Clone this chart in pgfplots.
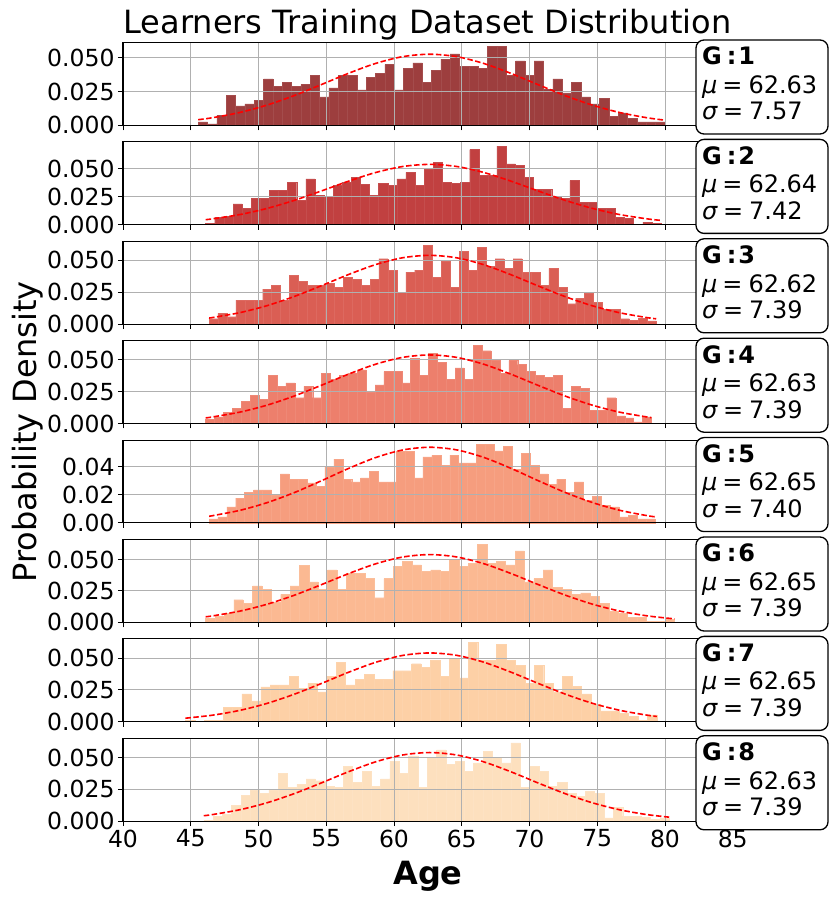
\documentclass[border=0pt]{standalone}
\usepackage{fontspec}
\setmainfont{DejaVu Sans}
\usepackage{pgfplots}
\pgfplotsset{compat=1.18}
\definecolor{gridc}{RGB}{176,176,176}
\definecolor{cA}{HTML}{9D3E3E}
\definecolor{cB}{HTML}{C14040}
\definecolor{cC}{HTML}{DA5E54}
\definecolor{cD}{HTML}{ED7F6C}
\definecolor{cE}{HTML}{F69D7E}
\definecolor{cF}{HTML}{FBB992}
\definecolor{cG}{HTML}{FDD0A6}
\definecolor{cH}{HTML}{FDE0BE}
\pgfplotsset{
  panel/.style={
    set layers,
    scale only axis, width=650.4pt, height=82.8pt,
    anchor=south west,
    xmin=40, xmax=88, ymin=0,
    xtick={40,45,50,55,60,65,70,75,80,85},
    xticklabels={},
    scaled y ticks=false,
    grid=major,
    major grid style={draw=gridc, line width=1pt},
    axis line style={line width=1.1pt},
    tick style={black, line width=1pt},
    tick align=outside, major tick length=5pt,
    xtick pos=left, ytick pos=left,
    tick label style={font=\fontsize{23.5}{28}\selectfont},
    /pgf/number format/assume math mode=true,
    ytick={0,0.025,0.05}, yticklabels={0.000,0.025,0.050},
  },
  mybars/.style={ybar interval, fill=#1, draw=#1!93!white, line width=0.4pt, on layer=axis background},
  curve/.style={red, line width=1.6pt, dash pattern=on 5.5pt off 2.5pt, smooth},
}
\begin{document}
\begin{tikzpicture}[x=1pt,y=1pt]

% ---- Panel 1
\begin{axis}[panel, at={(123pt,777.7pt)}, ymax=0.0614]
\addplot[mybars=cA] coordinates {
(45.55,0.0025) (46.24,0.0010) (46.93,0.0074) (47.62,0.0223) (48.31,0.0144) (49.00,0.0158) (49.68,0.0186) (50.37,0.0344) (51.06,0.0290) (51.75,0.0320)
(52.44,0.0290) (53.13,0.0302) (53.82,0.0369) (54.51,0.0210) (55.20,0.0277) (55.89,0.0369) (56.57,0.0369) (57.26,0.0262) (57.95,0.0356) (58.64,0.0386)
(59.33,0.0450) (60.02,0.0262) (60.71,0.0423) (61.40,0.0463) (62.09,0.0320) (62.78,0.0410) (63.46,0.0490) (64.15,0.0530) (64.84,0.0436) (65.53,0.0436)
(66.22,0.0423) (66.91,0.0584) (67.60,0.0584) (68.29,0.0371) (68.98,0.0478) (69.67,0.0371) (70.35,0.0478) (71.04,0.0265) (71.73,0.0344) (72.42,0.0240)
(73.11,0.0320) (73.80,0.0210) (74.49,0.0158) (75.18,0.0198) (75.87,0.0064) (76.56,0.0092) (77.24,0.0052) (77.93,0.0025) (78.62,0.0025) (79.31,0.0025) (80.00,0.0025)};
\addplot[curve] coordinates {
(45.55,0.00414) (46.63,0.00565) (48.63,0.00953) (50.63,0.01500) (52.63,0.02202) (54.63,0.03015) (56.63,0.03849) (58.63,0.04583) (60.63,0.05089) (62.63,0.05270)
(64.63,0.05089) (66.63,0.04583) (68.63,0.03849) (70.63,0.03015) (72.63,0.02202) (74.63,0.01500) (76.63,0.00953) (78.63,0.00565) (80.00,0.00379)};
\end{axis}

% ---- Panel 2
\begin{axis}[panel, at={(123pt,678.3pt)}, ymax=0.0738]
\addplot[mybars=cB] coordinates {
(46.10,0.0012) (46.77,0.0068) (47.44,0.0074) (48.12,0.0185) (48.79,0.0143) (49.46,0.0232) (50.13,0.0232) (50.80,0.0307) (51.48,0.0307) (52.15,0.0378)
(52.82,0.0217) (53.49,0.0408) (54.16,0.0259) (54.84,0.0250) (55.51,0.0348) (56.18,0.0378) (56.85,0.0423) (57.52,0.0357) (58.20,0.0262) (58.87,0.0366)
(59.54,0.0348) (60.21,0.0408) (60.88,0.0467) (61.56,0.0348) (62.23,0.0497) (62.90,0.0557) (63.57,0.0378) (64.24,0.0366) (64.92,0.0378) (65.59,0.0670)
(66.26,0.0437) (66.93,0.0437) (67.60,0.0700) (68.28,0.0542) (68.95,0.0527) (69.62,0.0423) (70.29,0.0318) (70.96,0.0318) (71.64,0.0244) (72.31,0.0232)
(72.98,0.0393) (73.65,0.0202) (74.32,0.0202) (75.00,0.0143) (75.67,0.0143) (76.34,0.0068) (77.01,0.0054) (77.68,0.0006) (78.36,0.0024) (79.03,0.0012) (79.70,0.0012)};
\addplot[curve] coordinates {
(46.10,0.00448) (46.64,0.00526) (48.64,0.00907) (50.64,0.01454) (52.64,0.02168) (54.64,0.03007) (56.64,0.03877) (58.64,0.04649) (60.64,0.05185) (62.64,0.05377)
(64.64,0.05185) (66.64,0.04649) (68.64,0.03877) (70.64,0.03007) (72.64,0.02168) (74.64,0.01454) (76.64,0.00907) (78.64,0.00526) (79.70,0.00382)};
\end{axis}

% ---- Panel 3
\begin{axis}[panel, at={(123pt,578.9pt)}, ymax=0.0650]
\addplot[mybars=cC] coordinates {
(46.35,0.0042) (47.01,0.0084) (47.67,0.0058) (48.33,0.0188) (48.99,0.0188) (49.65,0.0188) (50.31,0.0275) (50.97,0.0304) (51.63,0.0188) (52.29,0.0380)
(52.95,0.0338) (53.61,0.0304) (54.27,0.0304) (54.93,0.0322) (55.59,0.0290) (56.25,0.0366) (56.91,0.0351) (57.57,0.0304) (58.23,0.0351) (58.89,0.0513)
(59.55,0.0424) (60.21,0.0251) (60.87,0.0408) (61.53,0.0424) (62.19,0.0618) (62.85,0.0366) (63.51,0.0497) (64.17,0.0290) (64.83,0.0571) (65.49,0.0424)
(66.15,0.0600) (66.81,0.0453) (67.47,0.0513) (68.13,0.0437) (68.79,0.0513) (69.45,0.0408) (70.11,0.0408) (70.77,0.0304) (71.43,0.0437) (72.09,0.0290)
(72.75,0.0160) (73.41,0.0204) (74.07,0.0246) (74.73,0.0173) (75.39,0.0115) (76.05,0.0115) (76.71,0.0042) (77.37,0.0029) (78.03,0.0047) (78.69,0.0026) (79.35,0.0026)};
\addplot[curve] coordinates {
(46.35,0.00478) (46.62,0.00518) (48.62,0.00897) (50.62,0.01444) (52.62,0.02161) (54.62,0.03004) (56.62,0.03882) (58.62,0.04663) (60.62,0.05204) (62.62,0.05398)
(64.62,0.05204) (66.62,0.04663) (68.62,0.03882) (70.62,0.03004) (72.62,0.02161) (74.62,0.01444) (76.62,0.00897) (78.62,0.00518) (79.35,0.00416)};
\end{axis}

% ---- Panel 4
\begin{axis}[panel, at={(123pt,479.5pt)}, ymax=0.0652]
\addplot[mybars=cD] coordinates {
(46.10,0.0031) (46.76,0.0052) (47.42,0.0089) (48.07,0.0117) (48.73,0.0174) (49.39,0.0219) (50.05,0.0190) (50.71,0.0378) (51.36,0.0292) (52.02,0.0320)
(52.68,0.0203) (53.34,0.0292) (54.00,0.0203) (54.65,0.0396) (55.31,0.0349) (55.97,0.0378) (56.63,0.0396) (57.29,0.0422) (57.94,0.0250) (58.60,0.0305)
(59.26,0.0409) (59.92,0.0409) (60.58,0.0320) (61.23,0.0513) (61.89,0.0378) (62.55,0.0555) (63.21,0.0482) (63.87,0.0349) (64.52,0.0438) (65.18,0.0349)
(65.84,0.0615) (66.50,0.0573) (67.16,0.0495) (67.81,0.0396) (68.47,0.0495) (69.13,0.0464) (69.79,0.0409) (70.45,0.0378) (71.10,0.0365) (71.76,0.0378)
(72.42,0.0117) (73.08,0.0292) (73.74,0.0276) (74.39,0.0102) (75.05,0.0102) (75.71,0.0203) (76.37,0.0060) (77.03,0.0044) (77.68,0.0013) (78.34,0.0052) (79.00,0.0052)};
\addplot[curve] coordinates {
(46.10,0.00442) (46.63,0.00518) (48.63,0.00897) (50.63,0.01444) (52.63,0.02161) (54.63,0.03004) (56.63,0.03882) (58.63,0.04663) (60.63,0.05204) (62.63,0.05398)
(64.63,0.05204) (66.63,0.04663) (68.63,0.03882) (70.63,0.03004) (72.63,0.02161) (74.63,0.01444) (76.63,0.00897) (78.63,0.00518) (79.00,0.00464)};
\end{axis}

% ---- Panel 5
\begin{axis}[panel, at={(123pt,380.1pt)}, ymax=0.0590, ytick={0,0.02,0.04}, yticklabels={0.00,0.02,0.04}]
\addplot[mybars=cE] coordinates {
(46.35,0.0029) (47.01,0.0043) (47.67,0.0114) (48.32,0.0176) (48.98,0.0219) (49.64,0.0236) (50.30,0.0236) (50.96,0.0200) (51.61,0.0350) (52.27,0.0310)
(52.93,0.0310) (53.59,0.0286) (54.25,0.0262) (54.90,0.0400) (55.56,0.0455) (56.22,0.0310) (56.88,0.0293) (57.54,0.0321) (58.19,0.0367) (58.85,0.0293)
(59.51,0.0293) (60.17,0.0512) (60.83,0.0512) (61.48,0.0321) (62.14,0.0471) (62.80,0.0483) (63.46,0.0412) (64.12,0.0483) (64.77,0.0428) (65.43,0.0428)
(66.09,0.0562) (66.75,0.0562) (67.41,0.0514) (68.06,0.0545) (68.72,0.0381) (69.38,0.0497) (70.04,0.0412) (70.70,0.0350) (71.35,0.0274) (72.01,0.0310)
(72.67,0.0219) (73.33,0.0293) (73.99,0.0160) (74.64,0.0188) (75.30,0.0126) (75.96,0.0114) (76.62,0.0043) (77.28,0.0055) (77.93,0.0029) (78.59,0.0029) (79.25,0.0029)};
\addplot[curve] coordinates {
(46.35,0.00477) (46.65,0.00521) (48.65,0.00900) (50.65,0.01448) (52.65,0.02163) (54.65,0.03005) (56.65,0.03881) (58.65,0.04658) (60.65,0.05198) (62.65,0.05391)
(64.65,0.05198) (66.65,0.04658) (68.65,0.03881) (70.65,0.03005) (72.65,0.02163) (74.65,0.01448) (76.65,0.00900) (78.65,0.00521) (79.25,0.00436)};
\end{axis}

% ---- Panel 6
\begin{axis}[panel, at={(123pt,280.7pt)}, ymax=0.0660]
\addplot[mybars=cF] coordinates {
(46.10,0.0032) (46.79,0.0045) (47.48,0.0074) (48.18,0.0180) (48.87,0.0153) (49.56,0.0291) (50.25,0.0265) (50.94,0.0159) (51.64,0.0222) (52.33,0.0291)
(53.02,0.0455) (53.71,0.0323) (54.40,0.0265) (55.10,0.0418) (55.79,0.0265) (56.48,0.0389) (57.17,0.0389) (57.86,0.0349) (58.56,0.0196) (59.25,0.0349)
(59.94,0.0445) (60.63,0.0487) (61.32,0.0458) (62.02,0.0405) (62.71,0.0418) (63.40,0.0405) (64.09,0.0500) (64.78,0.0445) (65.48,0.0471) (66.17,0.0624)
(66.86,0.0471) (67.55,0.0487) (68.24,0.0458) (68.94,0.0569) (69.63,0.0323) (70.32,0.0349) (71.01,0.0418) (71.70,0.0278) (72.40,0.0265) (73.09,0.0222)
(73.78,0.0235) (74.47,0.0209) (75.16,0.0153) (75.86,0.0085) (76.55,0.0071) (77.24,0.0042) (77.93,0.0042) (78.62,0.0005) (79.32,0.0005) (80.01,0.0026) (80.70,0.0026)};
\addplot[curve] coordinates {
(46.10,0.00440) (46.65,0.00518) (48.65,0.00897) (50.65,0.01444) (52.65,0.02161) (54.65,0.03004) (56.65,0.03882) (58.65,0.04663) (60.65,0.05204) (62.65,0.05398)
(64.65,0.05204) (66.65,0.04663) (68.65,0.03882) (70.65,0.03004) (72.65,0.02161) (74.65,0.01444) (76.65,0.00897) (78.65,0.00518) (80.70,0.00273)};
\end{axis}

% ---- Panel 7
\begin{axis}[panel, at={(123pt,181.3pt)}, ymax=0.0650]
\addplot[mybars=cG] coordinates {
(44.60,0.0013) (45.30,0.0005) (45.99,0.0013) (46.69,0.0013) (47.38,0.0110) (48.08,0.0110) (48.78,0.0218) (49.47,0.0163) (50.17,0.0274) (50.86,0.0290)
(51.56,0.0290) (52.26,0.0358) (52.95,0.0263) (53.65,0.0303) (54.34,0.0234) (55.04,0.0358) (55.74,0.0468) (56.43,0.0290) (57.13,0.0332) (57.82,0.0371)
(58.52,0.0332) (59.22,0.0332) (59.91,0.0400) (60.61,0.0400) (61.30,0.0455) (62.00,0.0426) (62.70,0.0482) (63.39,0.0358) (64.09,0.0495) (64.78,0.0345)
(65.48,0.0621) (66.18,0.0482) (66.87,0.0482) (67.57,0.0605) (68.26,0.0482) (68.96,0.0440) (69.66,0.0303) (70.35,0.0440) (71.05,0.0303) (71.74,0.0234)
(72.44,0.0358) (73.14,0.0276) (73.83,0.0218) (74.53,0.0137) (75.22,0.0084) (75.92,0.0084) (76.62,0.0068) (77.31,0.0042) (78.01,0.0013) (78.70,0.0053) (79.40,0.0053)};
\addplot[curve] coordinates {
(44.60,0.00273) (46.65,0.00518) (48.65,0.00897) (50.65,0.01444) (52.65,0.02161) (54.65,0.03004) (56.65,0.03882) (58.65,0.04663) (60.65,0.05204) (62.65,0.05398)
(64.65,0.05204) (66.65,0.04663) (68.65,0.03882) (70.65,0.03004) (72.65,0.02161) (74.65,0.01444) (76.65,0.00897) (78.65,0.00518) (79.40,0.00414)};
\end{axis}

% ---- Panel 8
\begin{axis}[panel, at={(123pt,81.9pt)}, ymax=0.0652, xticklabels={40,45,50,55,60,65,70,75,80,85}]
\addplot[mybars=cH] coordinates {
(45.96,0.0005) (46.65,0.0039) (47.33,0.0053) (48.02,0.0124) (48.71,0.0205) (49.40,0.0245) (50.08,0.0221) (50.77,0.0245) (51.46,0.0374) (52.14,0.0263)
(52.83,0.0290) (53.52,0.0332) (54.20,0.0318) (54.89,0.0276) (55.58,0.0263) (56.27,0.0431) (56.95,0.0305) (57.64,0.0389) (58.33,0.0276) (59.01,0.0332)
(59.70,0.0473) (60.39,0.0376) (61.07,0.0513) (61.76,0.0263) (62.45,0.0500) (63.14,0.0560) (63.82,0.0447) (64.51,0.0473) (65.20,0.0389) (65.88,0.0458)
(66.57,0.0547) (67.26,0.0500) (67.94,0.0458) (68.63,0.0616) (69.32,0.0263) (70.01,0.0431) (70.69,0.0389) (71.38,0.0276) (72.07,0.0305) (72.75,0.0221)
(73.44,0.0195) (74.13,0.0234) (74.81,0.0221) (75.50,0.0026) (76.19,0.0110) (76.88,0.0039) (77.56,0.0039) (78.25,0.0032) (78.94,0.0013) (79.62,0.0026) (80.31,0.0026)};
\addplot[curve] coordinates {
(45.96,0.00424) (46.63,0.00518) (48.63,0.00897) (50.63,0.01444) (52.63,0.02161) (54.63,0.03004) (56.63,0.03882) (58.63,0.04663) (60.63,0.05204) (62.63,0.05398)
(64.63,0.05204) (66.63,0.04663) (68.63,0.03882) (70.63,0.03004) (72.63,0.02161) (74.63,0.01444) (76.63,0.00897) (78.63,0.00518) (80.31,0.00309)};
\end{axis}

% ---- Text boxes
\foreach \T/\g/\m/\s in {863.0/1/62.63/7.57, 763.6/2/62.64/7.42, 664.2/3/62.62/7.39, 564.8/4/62.63/7.39, 465.4/5/62.65/7.40, 366.0/6/62.65/7.39, 266.6/7/62.65/7.39, 167.2/8/62.63/7.39}{
  \draw[line width=1.3pt, rounded corners=8pt, fill=white] (696,{\T-94}) rectangle (828,\T);
  \node[anchor=base west, inner sep=0pt] at (702,{\T-25}) {\fontsize{24}{28}\selectfont\bfseries G\kern5pt:\kern 2pt \g};
  \node[anchor=base west, inner sep=0pt] at (702,{\T-53.3}) {\fontsize{24}{28}\selectfont\textit{μ}\kern5pt=\kern6pt\m};
  \node[anchor=base west, inner sep=0pt] at (702,{\T-80}) {\fontsize{24}{28}\selectfont\textit{σ}\kern5pt=\kern6pt\s};
}

% ---- Titles and labels
\node[anchor=base] at (427.5,869) {\fontsize{32}{36}\selectfont Learners Training Dataset Distribution};
\node[anchor=base] at (428,18) {\fontsize{32}{36}\selectfont\bfseries Age};
\node[rotate=90, anchor=center] at (28,471) {\fontsize{32}{36}\selectfont Probability Density};

\pgfresetboundingbox
\useasboundingbox (0,0) rectangle (830,903);
\end{tikzpicture}
\end{document}
